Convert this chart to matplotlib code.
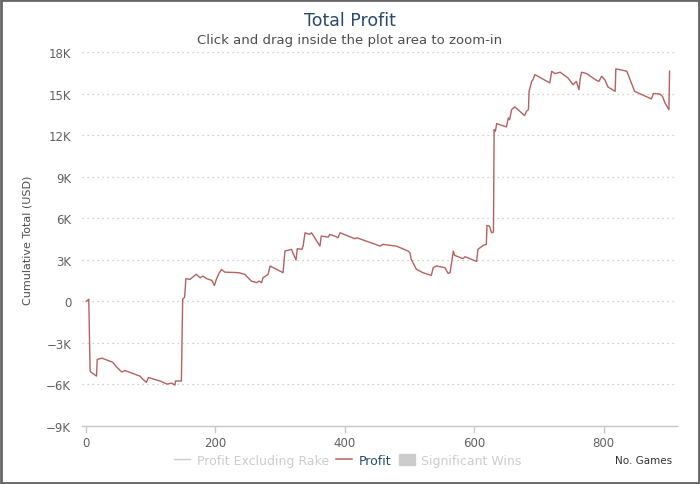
import matplotlib
matplotlib.use('Agg')
import matplotlib.pyplot as plt
from matplotlib.lines import Line2D
from matplotlib.patches import Patch, Rectangle
from matplotlib.ticker import FuncFormatter

# Data
games = [1, 5, 7, 8, 17, 18, 25, 42, 48, 56, 61, 84, 88, 94, 97, 115, 126, 133, 138,
         139, 148, 150, 153, 155, 161, 171, 177, 181, 187, 195, 199, 202, 206, 210,
         215, 236, 246, 256, 264, 268, 272, 274, 282, 285, 305, 308, 318, 325, 327,
         334, 336, 339, 346, 349, 357, 362, 364, 375, 377, 385, 390, 393, 403, 416,
         419, 455, 459, 480, 498, 501, 503, 511, 521, 534, 537, 542, 555, 560, 563,
         568, 570, 583, 586, 604, 606, 614, 619, 620, 624, 627, 630, 631, 633, 635,
         650, 653, 655, 658, 663, 678, 681, 684, 685, 689, 691, 694, 717, 720, 725,
         733, 745, 753, 758, 762, 764, 766, 774, 789, 793, 797, 802, 807, 818, 819,
         825, 836, 843, 848, 874, 877, 887, 891, 895, 901, 902]
profit = [0, 150, -5000, -5100, -5400, -4200, -4100, -4400, -4750, -5100, -5000,
          -5400, -5600, -5850, -5500, -5750, -5980, -5900, -6050, -5750, -5750, 150,
          300, 1640, 1580, 1950, 1700, 1820, 1640, 1510, 1150, 1590, 2020, 2300,
          2110, 2070, 1950, 1460, 1350, 1460, 1350, 1700, 1950, 2550, 2070, 3630,
          3750, 2980, 3800, 3750, 3990, 4950, 4830, 4950, 4350, 3990, 4710, 4640,
          4830, 4710, 4590, 4950, 4760, 4520, 4590, 3990, 4110, 3990, 3630, 3510,
          3030, 2310, 2070, 1870, 2430, 2550, 2430, 2020, 2070, 3630, 3320, 3080,
          3220, 2880, 3750, 4040, 4110, 5480, 5430, 4950, 5000, 12400, 12280, 12830,
          12590, 13240, 13120, 13840, 14040, 13410, 13720, 13840, 15160, 15880,
          16000, 16370, 15770, 16610, 16440, 16540, 16130, 15640, 15880, 15280,
          16060, 16540, 16440, 15960, 15880, 16250, 16000, 15470, 15160, 16780,
          16730, 16610, 15770, 15160, 14610, 15000, 14970, 14800, 14320, 13840, 16610]

x_ticks = [0, 200, 400, 600, 800]
y_ticks = [-9000, -6000, -3000, 0, 3000, 6000, 9000, 12000, 15000, 18000]

line_color = '#b5615f'
axis_color = '#c8c8c8'

plt.rcParams['font.family'] = 'DejaVu Sans'

fig = plt.figure(figsize=(7.0, 4.85), dpi=100)
ax = fig.add_axes([0.1176, 0.1196, 0.8491, 0.7711])

ax.plot(games, profit, color=line_color, linewidth=1.0)

ax.set_xlim(-5, 913)
ax.set_ylim(-9000, 18000)
ax.set_xticks(x_ticks)
ax.set_yticks(y_ticks)


def k_fmt(v, pos):
    if v == 0:
        return '0'
    s = f'{abs(v) / 1000:g}K'
    return ('\u2212' + s) if v < 0 else s


ax.yaxis.set_major_formatter(FuncFormatter(k_fmt))

ax.grid(axis='y', linestyle=(0, (1, 3)), color='#c0c0c0', linewidth=0.9)
ax.set_axisbelow(True)
for side in ['top', 'right', 'left']:
    ax.spines[side].set_visible(False)
ax.spines['bottom'].set_color(axis_color)
ax.spines['bottom'].set_linewidth(1.0)

ax.tick_params(axis='y', length=0, pad=8, labelsize=8.5, labelcolor='#606060')
ax.tick_params(axis='x', length=5, width=1, color=axis_color, pad=2,
               labelsize=8.5, labelcolor='#606060')

ax.set_ylabel('Cumulative Total (USD)', fontsize=8, color='#4d4d4d')
ax.yaxis.set_label_coords(-0.083, 0.5)

fig.text(0.5, 0.956, 'Total Profit', ha='center', va='center',
         fontsize=12.5, color='#274b6d')
fig.text(0.5, 0.916, 'Click and drag inside the plot area to zoom-in',
         ha='center', va='center', fontsize=9.5, color='#4d4d4d')

handles = [Line2D([], [], color='#cccccc', linewidth=1.0),
           Line2D([], [], color=line_color, linewidth=1.1),
           Patch(facecolor='#cccccc', edgecolor='#cccccc')]
labels = ['Profit Excluding Rake', 'Profit', 'Significant Wins']
leg = fig.legend(handles, labels, loc='center', bbox_to_anchor=(0.497, 0.049),
                 ncol=3, frameon=False, fontsize=9, handlelength=1.3,
                 handleheight=0.9, handletextpad=0.5, columnspacing=0.6)
for txt, c in zip(leg.get_texts(), ['#cccccc', '#274b6d', '#cccccc']):
    txt.set_color(c)

fig.text(0.96, 0.049, 'No. Games', ha='right', va='center', fontsize=7.5,
         color='#333333')

# outer border
fig.patches.append(Rectangle((0.0015, 0.002), 0.997, 0.996, transform=fig.transFigure,
                             fill=False, edgecolor='#666666', linewidth=2.0))

fig.savefig('out.png', dpi=100, facecolor='white')
